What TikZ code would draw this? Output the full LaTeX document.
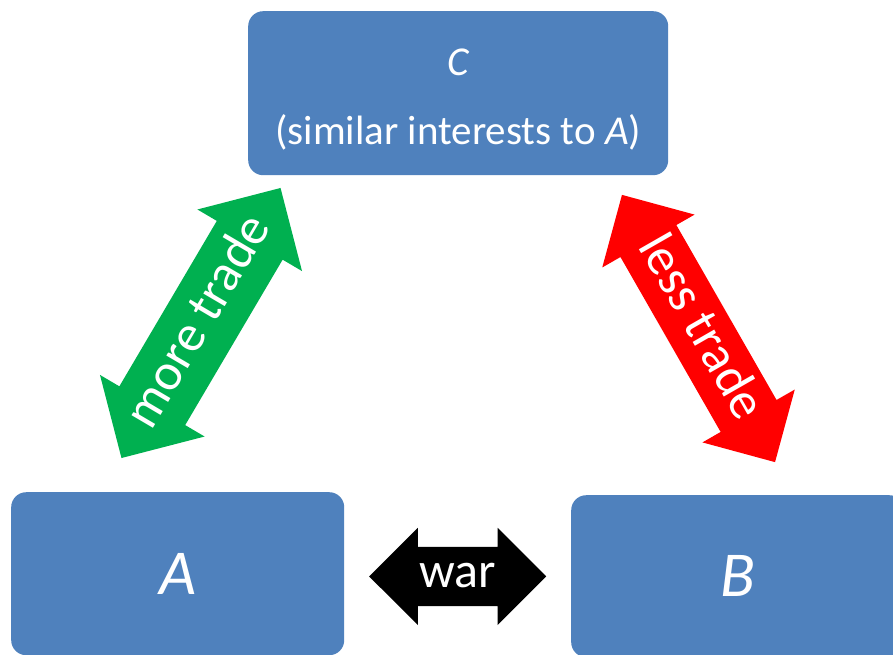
\documentclass[tikz,border=0pt]{standalone}
\usepackage{fontspec}
\setmainfont{Carlito}
\usepackage{tikz}
\usetikzlibrary{shapes.arrows,calc}
\definecolor{boxblue}{HTML}{4F81BD}
\definecolor{tradegreen}{HTML}{00B050}
\definecolor{tradered}{HTML}{FF0000}
\tikzset{
    country/.style={fill=boxblue, rounded corners=15pt, text=white, inner sep=0pt, anchor=north west},
    dblarrow/.style={double arrow, double arrow head extend=#1, inner xsep=0pt, inner ysep=0pt, text=white, minimum width=0pt, font=\fontsize{52}{60}\selectfont}
}
\begin{document}
\begin{tikzpicture}[x=1pt,y=-1pt]
    \useasboundingbox (0,0) rectangle (893,655);
    \clip (0,0) rectangle (893,655);
    \node[country, minimum width=420pt, minimum height=164pt, align=center, font=\fontsize{41}{47}\selectfont] (boxC) at (248,11) {\rule{0pt}{39pt}\textit{C}\\[22pt](similar interests to \textit{A})};
    \node[country, minimum width=333pt, minimum height=163pt, font=\fontsize{64}{70}\selectfont] (boxA) at (11,492) {\textit{A}};
    \node[country, minimum width=333pt, minimum height=162pt, font=\fontsize{64}{70}\selectfont] (boxB) at (571,495) {\textit{B}};
    \node[dblarrow=22.5pt, fill=tradegreen, rotate=59.5, minimum height=311pt, text height=50pt, text depth=26pt] (moretrade) at (201,323) {more trade};
    \node[dblarrow=21pt, fill=tradered, rotate=-60.2, minimum height=308pt, text height=44pt, text depth=20pt] (lesstrade) at (698.5,328.5) {less trade};
    \node[dblarrow=19pt, fill=black, minimum height=177pt, text height=41pt, text depth=18pt, font=\fontsize{50}{60}\selectfont] (war) at ($(boxA.east)!0.5!(boxB.west)+(0,1.5)$) {war};
\end{tikzpicture}
\end{document}
